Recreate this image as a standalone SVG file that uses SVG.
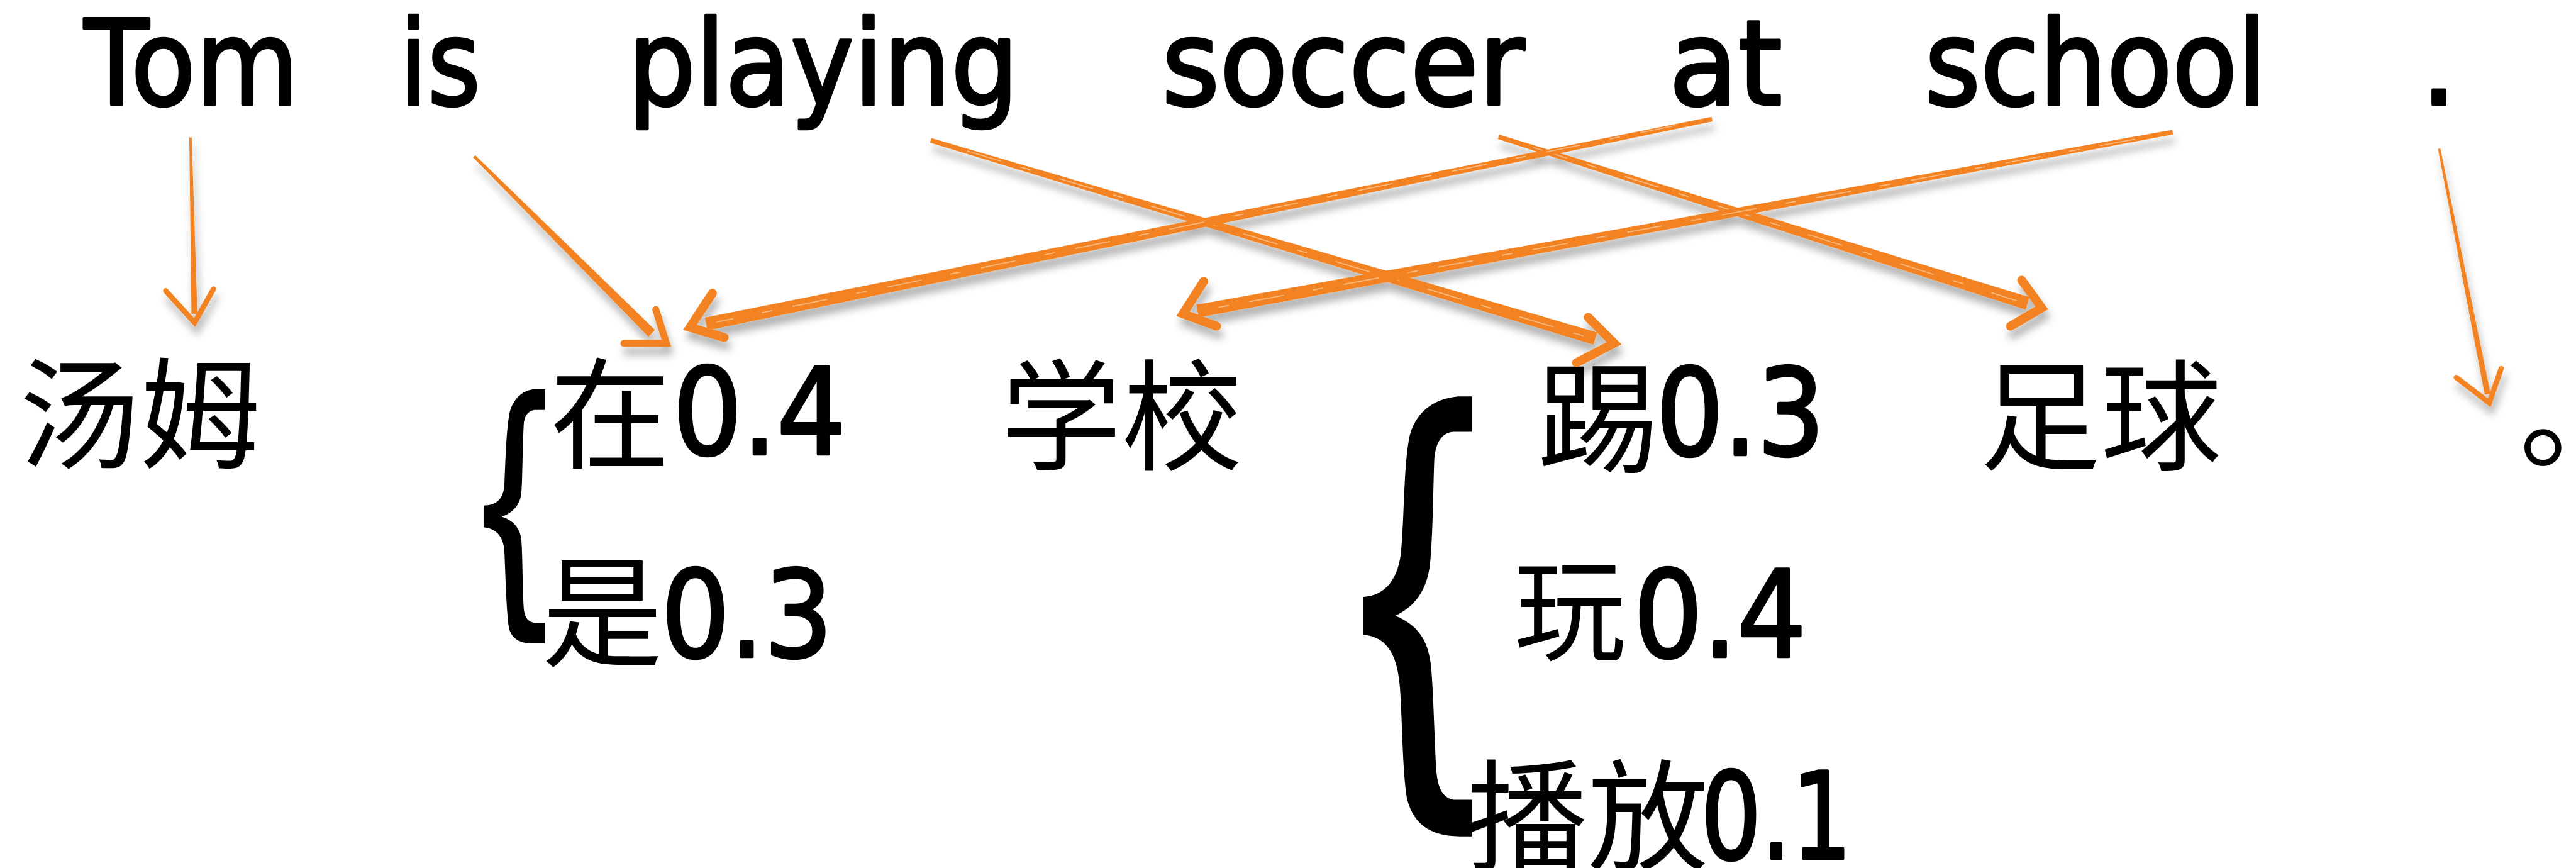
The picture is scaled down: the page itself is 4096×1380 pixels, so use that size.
<svg xmlns="http://www.w3.org/2000/svg" width="4096" height="1380" viewBox="0 0 4096 1380">
  <defs>
    <filter id="brushShadow" x="-10%" y="-30%" width="120%" height="160%">
      <feDropShadow dx="4" dy="14" stdDeviation="7" flood-color="#000" flood-opacity="0.3"/>
    </filter>
    <style>
      .en { font-family: "DejaVu Sans", "Liberation Sans", sans-serif; font-size: 199px; fill: #000; stroke: #000; stroke-width: 5px; stroke-linejoin: round; }
      .num { font-family: "DejaVu Sans", "Liberation Sans", sans-serif; font-size: 204px; fill: #000; stroke: #000; stroke-width: 5px; stroke-linejoin: round; }
      .zh { font-family: "Noto Sans CJK SC", "Noto Sans CJK TC", sans-serif; font-size: 205px; fill: #000; }
      .brace { fill: #000; }
      .shaft { fill: #F38320; }
      .head { fill: none; stroke: #F38320; stroke-linecap: round; stroke-linejoin: miter; }
      .streak { fill: none; stroke: #fff; stroke-opacity: 0.45; stroke-width: 1.8; stroke-dasharray: 60 35 18 50; }
    </style>
  </defs>
  <rect width="4096" height="1380" fill="#fff"/>
  <g transform="scale(0.93773)">
    <!-- English source sentence -->
    <g id="src-Tom"><text class="en" x="143" y="177" textLength="363" lengthAdjust="spacingAndGlyphs">Tom</text></g>
    <g id="src-is"><text class="en" x="677" y="177" textLength="138" lengthAdjust="spacingAndGlyphs">is</text></g>
    <g id="src-playing"><text class="en" x="1065" y="177" textLength="662" lengthAdjust="spacingAndGlyphs">playing</text></g>
    <g id="src-soccer"><text class="en" x="1970" y="177" textLength="615" lengthAdjust="spacingAndGlyphs">soccer</text></g>
    <g id="src-at"><text class="en" x="2830" y="177" textLength="192" lengthAdjust="spacingAndGlyphs">at</text></g>
    <g id="src-school"><text class="en" x="3264" y="177" textLength="580" lengthAdjust="spacingAndGlyphs">school</text></g>
    <g id="src-period"><text class="en" x="4104" y="177">.</text></g>

    <!-- Chinese target words with candidate probabilities -->
    <g id="tgt-tangmu"><text class="zh" x="32" y="779">汤姆</text></g>

    <g id="tgt-zai-shi">
      <path class="brace" d="M924,660 L904,660 C886,662 870,676 864,700 C858,730 857,790 855,826 C852,848 840,857 820,857 L820,894 C842,896 852,910 855,930 C857,965 858,1030 863,1065 C868,1082 880,1091 904,1091 L924,1091 L924,1056 L906,1056 C893,1054 889,1044 888,1030 C886,990 886,940 884,915 C882,895 870,882 851,876 C870,869 882,856 884,836 C886,810 886,760 888,720 C889,705 895,697 906,695 L924,695 Z"/>
      <text class="zh" x="932" y="779">在</text>
      <text class="num" x="1141" y="770" textLength="294" lengthAdjust="spacingAndGlyphs">0.4</text>
      <text class="zh" x="919" y="1114">是</text>
      <text class="num" x="1121" y="1113" textLength="291" lengthAdjust="spacingAndGlyphs">0.3</text>
    </g>

    <g id="tgt-xuexiao"><text class="zh" x="1697" y="782">学校</text></g>

    <g id="tgt-ti-wan-bofang">
      <path class="brace" d="M2496,672 L2472,672 C2430,676 2400,700 2390,740 C2380,790 2381,880 2376,932 C2372,980 2350,1010 2312,1012 L2312,1076 C2352,1080 2370,1110 2374,1168 C2378,1230 2378,1300 2385,1350 C2395,1400 2430,1418 2475,1418 L2496,1418 L2496,1356 L2465,1356 C2445,1352 2437,1335 2435,1300 C2432,1240 2430,1160 2426,1125 C2420,1080 2400,1058 2366,1044 C2400,1028 2420,1000 2425,955 C2430,900 2430,830 2432,780 C2434,750 2445,733 2465,732 L2496,732 Z"/>
      <text class="zh" x="2607" y="785">踢</text>
      <text class="num" x="2808" y="771" textLength="286" lengthAdjust="spacingAndGlyphs">0.3</text>
      <text class="zh" x="2567" y="1106" style="font-size:190px">玩</text>
      <text class="num" x="2770" y="1113" textLength="293" lengthAdjust="spacingAndGlyphs">0.4</text>
      <text class="zh" x="2487" y="1460">播放</text>
      <text class="num" x="2884" y="1456" textLength="256" lengthAdjust="spacingAndGlyphs">0.1</text>
    </g>

    <g id="tgt-zuqiu"><text class="zh" x="3357" y="782">足球</text></g>
    <g id="tgt-juhao"><text class="zh" x="4272" y="777">。</text></g>

    <!-- Word alignment connectors: tapered brush shafts with open heads -->
    <g id="connectors" filter="url(#brushShadow)">
      <!-- Tom -> 汤姆 -->
      <polygon class="shaft" points="321,233 324.7,532.1 334.7,531.9 325,233"/>
      <path class="head" stroke-width="9" d="M281,493 L330,547 L362,490"/>
      <!-- is -> 在 -->
      <polygon class="shaft" points="802.2,266.8 1099.4,570.7 1110.6,559.3 805.8,263.2"/>
      <path class="head" stroke-width="12" d="M1112,525 L1130,582 L1058,582"/>
      <!-- playing -> 踢 -->
      <polygon class="shaft" points="1576.9,241.8 2701.9,584.5 2708.1,563.5 1579.1,234.2"/>
      <path class="streak" d="M1640,256 L2690,571"/>
      <path class="head" stroke-width="15" d="M2693,538 L2737,582 L2673,615"/>
      <!-- soccer -> 足球 -->
      <polygon class="shaft" points="2539.8,235.8 3434.7,525.0 3441.3,504.0 2542.2,228.2"/>
      <path class="streak" d="M2600,250 L3420,510"/>
      <path class="head" stroke-width="15" d="M3428,475 L3462,522 L3409,553"/>
      <!-- at -> 在 -->
      <polygon class="shaft" points="2902.2,198.1 1195.2,538.6 1199.6,560.2 2903.8,205.9"/>
      <path class="streak" d="M2840,213 L1215,546"/>
      <path class="head" stroke-width="15" d="M1208,497 L1170,555 L1228,572"/>
      <!-- school -> 学校 -->
      <polygon class="shaft" points="3683.3,220.1 2028.6,516.7 2032.6,538.3 3684.7,227.9"/>
      <path class="streak" d="M3620,236 L2050,524"/>
      <path class="head" stroke-width="15" d="M2041,477 L2006,532 L2063,553"/>
      <!-- . -> 。 -->
      <polygon class="shaft" points="4134.0,252.4 4213.2,669.3 4223.0,667.3 4138.0,251.6"/>
      <path class="head" stroke-width="9" d="M4165,640 L4221,683 L4241,625"/>
    </g>
  </g>
</svg>
